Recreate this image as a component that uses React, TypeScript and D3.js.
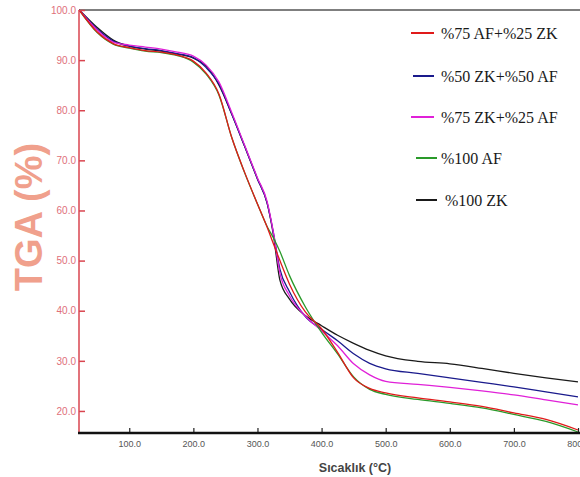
import React, { useEffect, useRef } from 'react';
import * as d3 from 'd3';

// temperatures (°C) shared by every series
const temps = [22, 50, 75, 100, 125, 150, 175, 200, 220, 240, 260, 280, 300, 315, 325, 335, 350, 375, 400, 425, 450, 475, 500, 550, 600, 650, 700, 750, 800];

// TGA mass (%)
const af75zk25 = [100, 95.6, 93.3, 92.5, 91.9, 91.6, 91.0, 89.8, 87.4, 83.2, 74.5, 67.6, 61.3, 56.7, 53.3, 50.0, 45.3, 39.7, 36.4, 31.7, 26.6, 24.5, 23.6, 22.6, 21.8, 20.9, 19.6, 18.3, 16.2];
const zk50af50 = [100, 96.2, 93.8, 92.8, 92.3, 91.9, 91.3, 90.5, 88.5, 85.2, 79.2, 72.8, 66.3, 61.5, 55.5, 48.3, 43.8, 38.8, 36.3, 34.0, 31.4, 29.5, 28.4, 27.5, 26.6, 25.7, 24.8, 23.8, 22.8];
const zk75af25 = [100, 96.0, 93.6, 93.0, 92.6, 92.2, 91.6, 90.8, 89.0, 85.6, 79.5, 73.0, 66.5, 61.8, 55.5, 47.5, 43.0, 38.9, 36.0, 33.0, 29.4, 27.2, 25.9, 25.3, 24.7, 24.0, 23.2, 22.2, 21.2];
const af100 = [100, 95.5, 93.2, 92.4, 91.8, 91.5, 90.9, 89.6, 87.2, 83.0, 74.5, 67.5, 61.3, 56.8, 54.5, 51.8, 47.0, 40.7, 35.7, 31.4, 26.8, 24.3, 23.3, 22.3, 21.5, 20.6, 19.3, 17.9, 15.8];
const zk100 = [100, 96.5, 94.0, 92.8, 92.2, 91.8, 91.2, 90.4, 88.8, 85.0, 79.2, 72.8, 66.3, 61.5, 55.0, 46.1, 42.3, 39.0, 37.0, 35.1, 33.5, 32.1, 31.0, 29.9, 29.4, 28.5, 27.5, 26.6, 25.8];

const seriesNames = ['%75 AF+%25 ZK', '%50 ZK+%50 AF', '%75 ZK+%25 AF', '%100 AF', '%100 ZK'];
const seriesValues = [af75zk25, zk50af50, zk75af25, af100, zk100];
const seriesColors = ['#e01a1a', '#1a1a8c', '#e020d8', '#2a9a2a', '#1a1a1a'];

const xTicks = [100, 200, 300, 400, 500, 600, 700, 800];
const yTicks = [20, 30, 40, 50, 60, 70, 80, 90, 100];

export default function App() {
  const svgRef = useRef(null);

  useEffect(() => {
    const w = 580;
    const h = 477;
    const svg = d3.select(svgRef.current);
    svg.selectAll('*').remove();
    svg.attr('width', w).attr('height', h).style('background', '#fff');

    const x = d3.scaleLinear().domain([21.6, 800]).range([79, 578]);
    const y = d3.scaleLinear().domain([15.6, 100]).range([433, 10]);

    // frame top line
    svg.append('line')
      .attr('x1', 79).attr('x2', 580).attr('y1', 10).attr('y2', 10)
      .attr('stroke', '#555').attr('stroke-width', 1.5);

    // curves
    const line = d3.line()
      .x((d, i) => x(temps[i]))
      .y(d => y(d))
      .curve(d3.curveMonotoneX);

    const order = [4, 1, 2, 3, 0];
    order.forEach(k => {
      svg.append('path')
        .attr('d', line(seriesValues[k]))
        .attr('fill', 'none')
        .attr('stroke', seriesColors[k])
        .attr('stroke-width', 1.3);
    });

    // y axis
    const yAxis = d3.axisLeft(y)
      .tickValues(yTicks)
      .tickFormat(d => d.toFixed(1))
      .tickSize(-6)
      .tickPadding(3);
    const gy = svg.append('g').attr('transform', 'translate(79,0)').call(yAxis);
    gy.select('.domain').remove();
    gy.selectAll('.tick line').attr('stroke', '#d9454f').attr('stroke-width', 1.5);
    gy.selectAll('.tick text')
      .attr('fill', '#e0707a')
      .style('font-family', '"Liberation Sans", Arial, sans-serif')
      .style('font-size', '10px');
    svg.append('line')
      .attr('x1', 79).attr('x2', 79).attr('y1', 10).attr('y2', 433)
      .attr('stroke', '#d9454f').attr('stroke-width', 1.5);

    // x axis
    const xAxis = d3.axisBottom(x)
      .tickValues(xTicks)
      .tickFormat(d => d.toFixed(1))
      .tickSize(-5)
      .tickPadding(8);
    const gx = svg.append('g').attr('transform', 'translate(0,433)').call(xAxis);
    gx.select('.domain').remove();
    gx.selectAll('.tick line').attr('stroke', '#222').attr('stroke-width', 1.2);
    gx.selectAll('.tick text')
      .attr('fill', '#555')
      .style('font-family', '"Liberation Sans", Arial, sans-serif')
      .style('font-size', '9px');
    svg.append('line')
      .attr('x1', 78).attr('x2', 580).attr('y1', 433).attr('y2', 433)
      .attr('stroke', '#111').attr('stroke-width', 2.5);

    // axis titles
    svg.append('text')
      .attr('x', 355).attr('y', 472)
      .attr('text-anchor', 'middle')
      .attr('fill', '#444')
      .style('font-family', '"Liberation Sans", Arial, sans-serif')
      .style('font-weight', 'bold')
      .style('font-size', '12.5px')
      .text('Sıcaklık (°C)');

    svg.append('text')
      .attr('transform', 'translate(42,217) rotate(-90)')
      .attr('text-anchor', 'middle')
      .attr('fill', '#f0a08c')
      .style('font-family', '"Liberation Sans", Arial, sans-serif')
      .style('font-weight', 'bold')
      .style('font-size', '38px')
      .text('TGA (%)');

    // legend
    const legY = [33, 76, 117, 158, 200];
    const legX1 = [411, 413, 411, 416, 416];
    const legX2 = [434, 434, 434, 437, 437];
    const legTx = [441, 441, 441, 441, 445];
    seriesNames.forEach((name, i) => {
      svg.append('line')
        .attr('x1', legX1[i]).attr('x2', legX2[i])
        .attr('y1', legY[i]).attr('y2', legY[i])
        .attr('stroke', seriesColors[i]).attr('stroke-width', 2);
      svg.append('text')
        .attr('x', legTx[i]).attr('y', legY[i] + 5.5)
        .attr('fill', '#1a1a1a')
        .style('font-family', '"Liberation Serif", "Times New Roman", serif')
        .style('font-size', '16px')
        .text(name);
    });
  }, []);

  return (
    <div style={{ position: 'absolute', left: 0, top: 0 }}>
      <svg ref={svgRef} style={{ display: 'block' }}></svg>
    </div>
  );
}
